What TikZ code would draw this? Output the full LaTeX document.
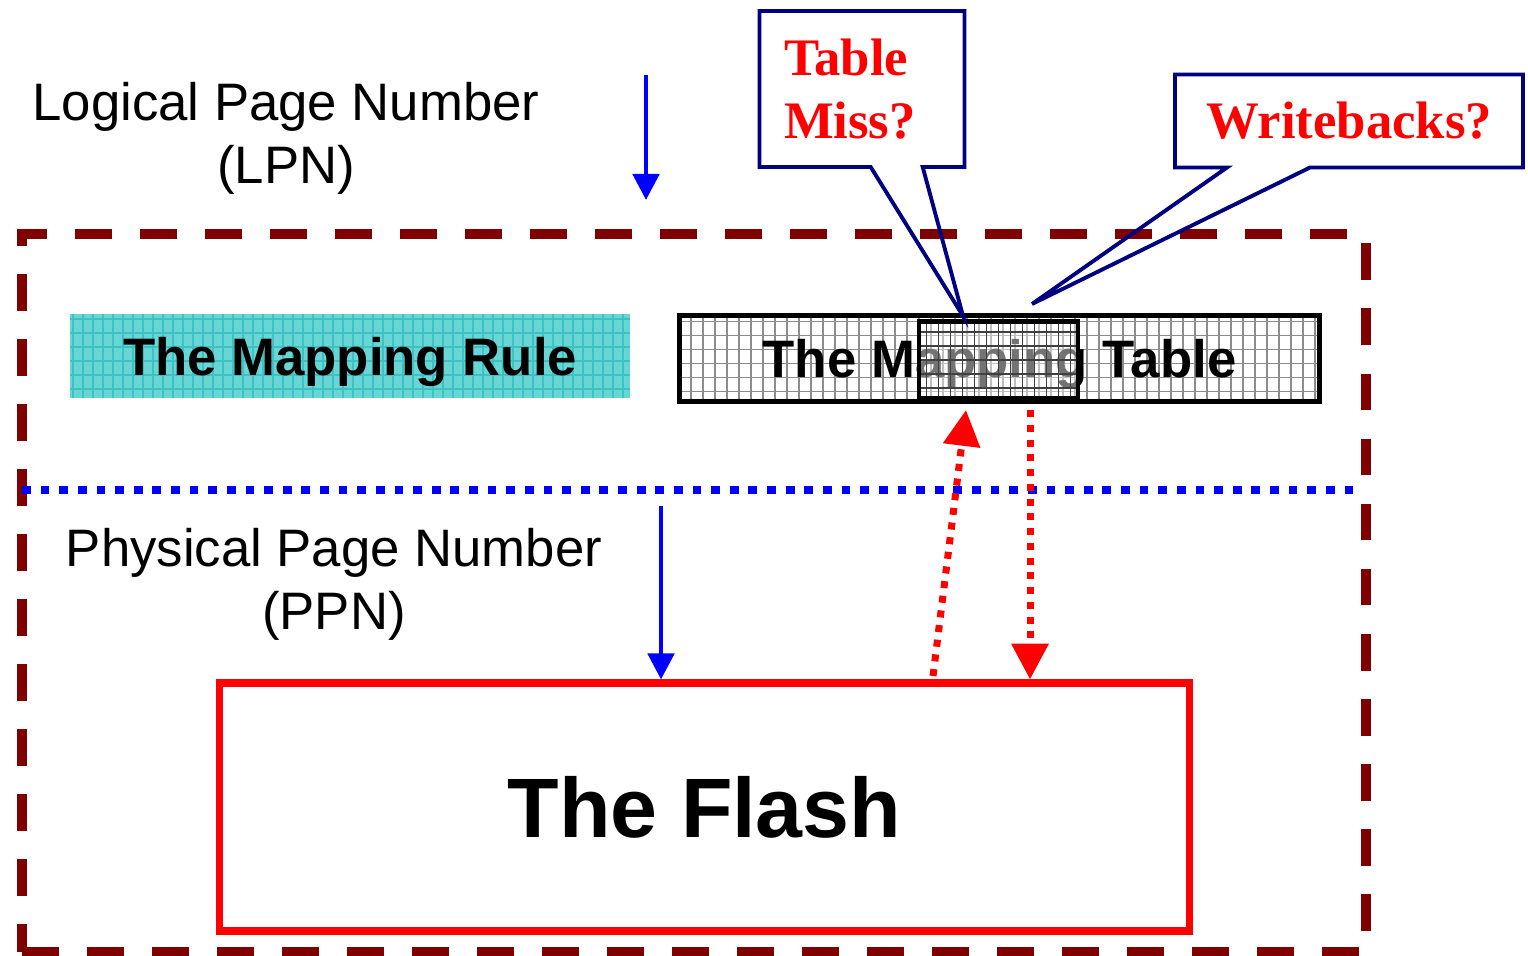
\documentclass[tikz,border=0pt]{standalone}
\usepackage{fontspec}
\setmainfont{Liberation Serif}
\setsansfont{Liberation Sans}
\usetikzlibrary{arrows.meta,shapes.callouts}

\definecolor{framered}{RGB}{128,0,0}
\definecolor{rulecyan}{RGB}{104,214,212}
\definecolor{rulegrid}{RGB}{60,194,194}
\definecolor{callnavy}{RGB}{0,0,128}

\tikzset{
  % outer frame and the split between the two layers
  layerframe/.style={draw=framered,line width=2.6pt,dash pattern=on 10.5pt off 8pt,
    inner sep=0pt,minimum width=13.44cm,minimum height=7.18cm},
  layersplit/.style={draw=blue,line width=2.3pt,dash pattern=on 2.5pt off 2.8pt},
  % arrows
  numarrow/.style={draw=blue,line width=1.4pt,-{Triangle[width=7.4pt,length=7.4pt]}},
  flasharrow/.style={draw=red,line width=2pt,dash pattern=on 2pt off 2.2pt,
    -{Triangle[width=10.2pt,length=10.2pt]}},
  % texts
  numlabel/.style={font=\sffamily\fontsize{15}{18}\selectfont,align=center},
  boxtext/.style={font=\sffamily\bfseries\fontsize{15}{18}\selectfont,text depth=0pt},
  % boxes, the grid is drawn inside with path picture
  gridded/.style 2 args={path picture={\draw[#1,line width=.5pt,xstep=#2,ystep=.14cm]
    (path picture bounding box.south west) grid (path picture bounding box.north east);}},
  rulebox/.style={boxtext,fill=rulecyan,gridded={rulegrid}{.1cm},
    minimum width=5.6cm,minimum height=.84cm,inner sep=0pt},
  tablebox/.style={boxtext,draw,line width=1.4pt,fill=white,gridded={black!45}{.12cm},
    minimum width=6.4cm,minimum height=.86cm,inner sep=0pt},
  hitbox/.style={draw,line width=1.2pt,fill=white,fill opacity=.45,gridded={black!75}{.12cm},
    minimum width=1.59cm,minimum height=.77cm,inner sep=0pt},
  flashbox/.style={draw=red,line width=2pt,font=\sffamily\bfseries\fontsize{24}{28}\selectfont,
    minimum width=9.7cm,minimum height=2.48cm},
  callbox/.style={rectangle callout,draw=callnavy,line width=1.1pt,text=red,
    font=\rmfamily\bfseries\fontsize{15}{18}\selectfont,inner sep=0pt},
}

\begin{document}
\begin{tikzpicture}
  \useasboundingbox (0,0) rectangle (15.28,9.55);

  % the two layers
  \node[layerframe] (frame) at (6.94,3.62) {};
  \draw[layersplit] (0.22,4.65) -- (13.60,4.65);

  % logical side
  \node[numlabel] (lpn) at (2.86,8.17) {Logical Page Number\\(LPN)};
  \coordinate (lpnin) at (6.46,8.80);
  \coordinate (lpnout) at (6.46,7.55);
  \draw[numarrow] (lpnin) -- (lpnout);

  \node[rulebox] (rule) at (3.50,5.99) {The Mapping Rule};
  \node[tablebox] (maptable) at (9.995,5.965) {The Mapping Table};
  \node[hitbox] (hit) at (9.985,5.95) {};

  % physical side
  \node[numlabel] (ppn) at (3.34,3.71) {Physical Page Number\\(PPN)};
  \node[flashbox] (flash) at (7.045,1.48) {The Flash};
  \coordinate (ppnin) at (6.61,4.49);
  \draw[numarrow] (ppnin) -- (ppnin |- flash.north);

  % table traffic to and from the flash
  \coordinate (readfoot) at (9.33,2.79);
  \coordinate (readtip) at (9.66,5.45);
  \coordinate (loadtop) at (10.30,5.45);
  \draw[flasharrow] (readfoot) -- (readtip);
  \draw[flasharrow] (loadtop) -- (loadtop |- flash.north);

  % questions
  \coordinate (misstip) at (9.63,6.39);
  \coordinate (backtip) at (10.32,6.51);
  \node[callbox,align=left,text width=1.56cm,minimum width=2.05cm,minimum height=1.56cm,
    callout absolute pointer={(misstip)},callout pointer width=.52cm,
    callout pointer shorten=0pt]
    (miss) at (8.62,8.66) {Table\\Miss?};
  \node[callbox,minimum width=3.48cm,minimum height=.93cm,
    callout absolute pointer={(backtip)},callout pointer width=.83cm]
    (back) at (13.49,8.34) {Writebacks?};
\end{tikzpicture}
\end{document}
